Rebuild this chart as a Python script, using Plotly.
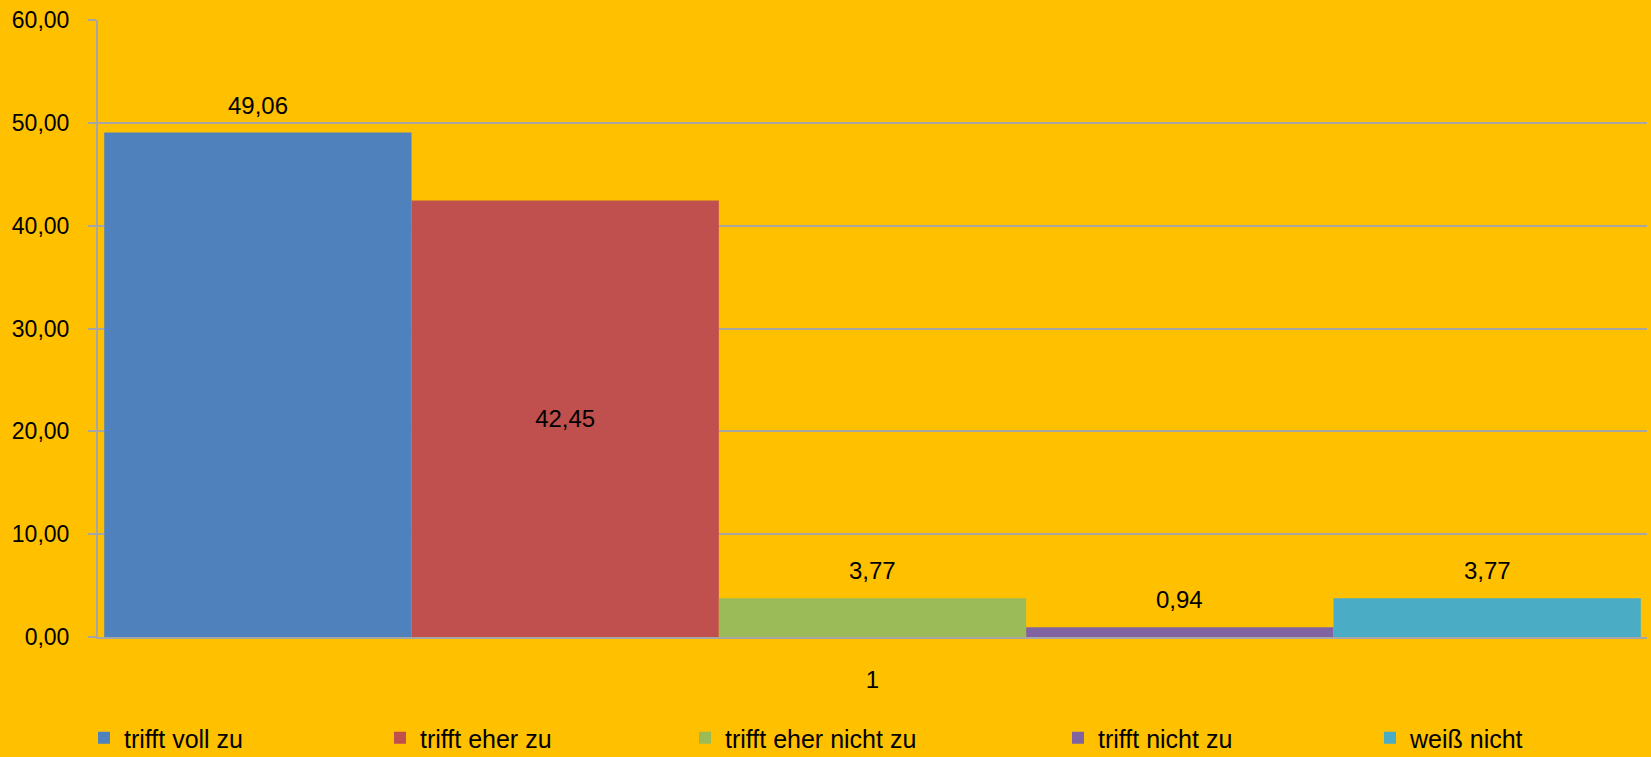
import plotly.graph_objects as go

categories = ["1"]
series_names = ["trifft voll zu", "trifft eher zu", "trifft eher nicht zu", "trifft nicht zu", "weiß nicht"]
series_values = [49.06, 42.45, 3.77, 0.94, 3.77]
colors = ["#4F81BD", "#C0504D", "#9BBB59", "#8064A2", "#4BACC6"]
y_ticks = [0, 10, 20, 30, 40, 50, 60]

W, H = 1651, 757
L, R, T, B = 98, 4, 20, 120
PW = W - L - R
legend_px = [101, 397, 702, 1075, 1387]
BARGAP = 0.008

FONT = "Liberation Sans"
GRID = "#A6A6A6"

fig = go.Figure()
for i, (name, v, c) in enumerate(zip(series_names, series_values, colors)):
    fig.add_trace(go.Bar(
        x=categories, y=[v], name=name, marker=dict(color=c, line=dict(width=0)),
        legend="legend" if i == 0 else f"legend{i+1}",
        text=[f"{v:.2f}".replace(".", ",")] if i == 1 else None,
        textposition="inside" if i == 1 else "none",
        insidetextanchor="middle",
        textfont=dict(family=FONT, size=24, color="black"),
        hoverinfo="skip",
    ))

n = len(series_names)
cat_index = 0  # position of categories[0] on the category axis
for i, v in enumerate(series_values):
    if i == 1:
        continue
    fig.add_annotation(
        x=cat_index, y=v, xref="x", yref="y",
        text=f"{v:.2f}".replace(".", ","), showarrow=False,
        yanchor="bottom", yshift=12,
        xshift=(i - (n - 1) / 2) * (PW * (1 - BARGAP) / n),
        font=dict(family=FONT, size=24, color="black"),
    )

legends = {}
for i, px in enumerate(legend_px):
    key = "legend" if i == 0 else f"legend{i+1}"
    legends[key] = dict(
        x=(px - 17) / W, xanchor="left", xref="container",
        y=(H - 738) / H, yanchor="middle", yref="container",
        orientation="h", bgcolor="rgba(0,0,0,0)",
        font=dict(family=FONT, size=25, color="black"),
        itemsizing="constant",
    )

fig.update_layout(
    width=W, height=H,
    margin=dict(l=L, r=R, t=T, b=B, pad=0, autoexpand=False),
    paper_bgcolor="#FFC000", plot_bgcolor="#FFC000",
    barmode="group", bargap=BARGAP, bargroupgap=0,
    separators=",.",
    showlegend=True,
    font=dict(family=FONT, size=24, color="black"),
    **legends,
)
fig.update_xaxes(
    type="category", range=[-0.5, 0.5], autorange=False,
    showgrid=False, showline=True, linecolor=GRID, linewidth=2,
    ticks="", tickfont=dict(family=FONT, size=24, color="black"),
    ticklabelstandoff=20,
)
fig.update_yaxes(
    range=[0, 60], tickvals=y_ticks, tickformat=".2f",
    showgrid=True, gridcolor=GRID, gridwidth=2,
    showline=True, linecolor=GRID, linewidth=2,
    ticks="outside", ticklen=8, tickcolor=GRID, tickwidth=2,
    tickfont=dict(family=FONT, size=23, color="black"),
    ticklabelstandoff=14,
    zeroline=False,
)

fig.write_html(
    "out.html",
    config={"displayModeBar": False},
    post_script="document.body.style.margin='0';document.body.style.overflow='hidden';",
)
